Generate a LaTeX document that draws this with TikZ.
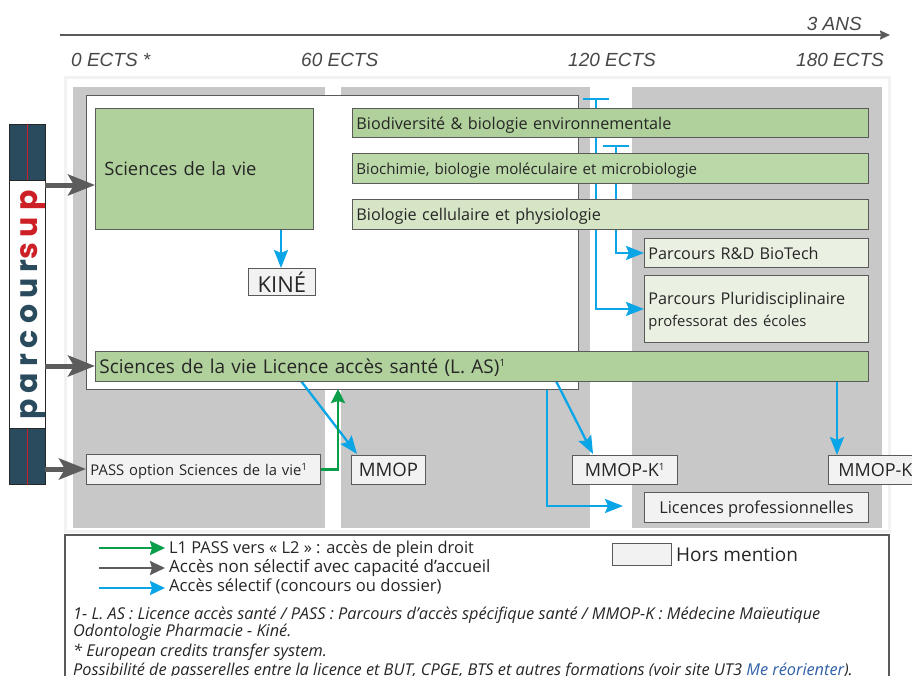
\documentclass[tikz,border=0pt]{standalone}
\usepackage{fontspec}
\setmainfont{Open Sans}
\newfontfamily\psfont[LetterSpace=20]{Poppins}
\newfontfamily\axfont{Liberation Sans}
\usetikzlibrary{arrows.meta,calc}
\pgfdeclarelayer{bands}\pgfdeclarelayer{low}\pgfdeclarelayer{conn}
\pgfsetlayers{bands,low,conn,main}
\definecolor{bandgray}{HTML}{C8C8C8}
\definecolor{edgegray}{HTML}{5A5A5A}
\definecolor{navy}{HTML}{2A4A5E}
\definecolor{psred}{HTML}{CC1F26}
\definecolor{bluearr}{HTML}{0AA5E6}
\definecolor{greenarr}{HTML}{0B9E4A}
\definecolor{grayarr}{HTML}{5C5C5C}
\definecolor{gA}{HTML}{B0D19C}
\definecolor{gB}{HTML}{BBD8A9}
\definecolor{gC}{HTML}{D5E5C5}
\definecolor{gD}{HTML}{EAF1E3}
\definecolor{soft}{HTML}{F2F2F2}
\tikzset{
  box/.style={draw=edgegray,line width=0.9pt,anchor=north west,inner xsep=4pt,inner ysep=0pt,align=left,font=\fontsize{16.2}{22}\selectfont,text=black!85},
  centerbox/.style={box,align=center},
  band/.style={fill=bandgray,draw=none,anchor=north west,inner sep=0pt},
  axis/.style={font=\fontsize{19}{22}\axfont\itshape,text=black!72},
  blueline/.style={bluearr,line width=2.3pt},
  bluearrow/.style={blueline,-{Stealth[length=18pt,width=14pt,inset=3pt]}},
  grayarrow/.style={grayarr,line width=5pt,-{Stealth[length=27pt,width=21pt,inset=6pt]}},
  greenarrow/.style={greenarr,line width=2.5pt,-{Stealth[length=14pt,width=14pt,inset=2pt]}},
  legendline/.style={line width=2.2pt,-{Stealth[length=15pt,width=14pt,inset=2pt]}},
  legendtxt/.style={anchor=west,inner sep=0pt,text=black!85},
  note/.style={anchor=base west,inner sep=0pt,font=\fontsize{16.3}{18}\selectfont\itshape,text=black!85},
}
\newcommand{\up}[1]{\textsuperscript{\fontsize{10}{10}\selectfont #1}}
\newcommand{\dn}[1]{\raisebox{-2pt}[\height][\depth]{#1}}
\begin{document}
\begin{tikzpicture}[x=1pt,y=-1pt]
\useasboundingbox (0,0) rectangle (912,675);
\clip (0,0) rectangle (912,675);

% axis
\coordinate (axA) at (60,35);
\coordinate (axB) at (890,35);
\draw[edgegray,line width=1.6pt,-{Stealth[length=10pt,width=9pt,inset=1pt]}] (axA) -- (axB);
\node[axis,anchor=base east,inner sep=0pt] (ans) at (862,30) {3 ANS};
\node[axis,anchor=base west,inner sep=0pt] (e0) at (71,66) {0 ECTS *};
\node[axis,anchor=base west,inner sep=0pt] (e60) at (301,66) {60 ECTS};
\node[axis,anchor=base west,inner sep=0pt] (e120) at (568,66) {120 ECTS};
\node[axis,anchor=base west,inner sep=0pt] (e180) at (796,66) {180 ECTS};

% bands
\begin{pgfonlayer}{bands}
\fill[white] (0,0) rectangle (912,675);
\draw[soft,line width=3pt] (65.5,77) rectangle (889,531);
\node[band,minimum width=252pt,minimum height=441pt] (b1) at (73,87) {};
\node[band,minimum width=249pt,minimum height=441pt] (b2) at (341,87) {};
\node[band,minimum width=250pt,minimum height=441pt] (b3) at (632,87) {};
\end{pgfonlayer}
\begin{pgfonlayer}{low}
\node[box,fill=white,minimum width=492pt,minimum height=294pt] (big) at (86,95) {};
\end{pgfonlayer}

% green boxes
\node[box,fill=gA,text width=200pt,minimum height=121pt,font=\fontsize{18.4}{22}\selectfont,inner xsep=9pt] (sv) at (95,108) {Sciences de la vie\\[6pt]};
\node[box,fill=gA,text width=508pt,minimum height=29pt] (bio) at (352,108) {\dn{Biodiversité \& biologie environnementale}};
\node[box,fill=gB,text width=508pt,minimum height=30pt,font=\fontsize{15.1}{22}\selectfont] (bioc) at (352,153) {\dn{Biochimie, biologie moléculaire et microbiologie}};
\node[box,fill=gC,text width=508pt,minimum height=30pt] (biol) at (352,199) {\dn{Biologie cellulaire et physiologie}};
\node[box,fill=gD,text width=216pt,minimum height=29pt] (rd) at (644,238) {Parcours R\&D BioTech};
\node[box,fill=gD,text width=216pt,minimum height=67pt] (plu) at (644,275) {\dn{Parcours Pluridisciplinaire}\\\dn{\fontsize{14.8}{22}\selectfont professorat des écoles}};
\node[box,fill=gA,text width=765pt,minimum height=30pt,font=\fontsize{19}{22}\selectfont] (las) at (95,351) {\raisebox{-1pt}[\height][\depth]{Sciences de la vie Licence accès santé (L. AS)\up{1}}};

% other boxes
\node[centerbox,fill=soft,minimum width=67pt,minimum height=27pt,inner xsep=0pt,font=\fontsize{22}{22}\selectfont] (kine) at (248,268) {KINÉ};
\node[box,fill=soft,text width=226pt,minimum height=30pt,font=\fontsize{14.8}{22}\selectfont] (pass) at (86,454) {\dn{PASS option Sciences de la vie\up{1}}};
\node[centerbox,fill=soft,minimum width=74pt,minimum height=29pt,inner xsep=0pt,font=\fontsize{18.6}{22}\selectfont] (mmop) at (351,455) {MMOP};
\node[centerbox,fill=soft,minimum width=105pt,minimum height=29pt,inner xsep=0pt,font=\fontsize{18}{22}\selectfont] (mk) at (572,455) {MMOP-K\up{1}};
\node[box,fill=soft,minimum width=100pt,minimum height=29pt,inner xsep=7pt,font=\fontsize{18}{22}\selectfont] (mk2) at (828,455) {MMOP-K\up{1}};
\node[centerbox,fill=soft,minimum width=224pt,minimum height=30pt,inner xsep=0pt,font=\fontsize{16.4}{22}\selectfont] (lic) at (644,492) {\dn{Licences professionnelles}};

% parcoursup
\node[draw=black!85,line width=1pt,fill=navy,anchor=north west,minimum width=36pt,minimum height=56pt,inner sep=0pt] (psA) at (9,124) {};
\node[draw=black!85,line width=1pt,fill=navy,anchor=north west,minimum width=36pt,minimum height=56pt,inner sep=0pt] (psB) at (9,428) {};
\draw[psred,line width=0.6pt] (psA.north) -- (psA.south);
\draw[psred,line width=0.6pt] (psB.north) -- (psB.south);
\node[draw=black!85,line width=1pt,fill=white,anchor=north west,minimum width=36pt,minimum height=248pt,inner sep=0pt] (ps) at (9,180) {};
\node[rotate=90,anchor=base,inner sep=0pt,font=\fontsize{30}{32}\psfont\bfseries] (pstxt) at (37,305) {\textcolor{navy}{parcour}\textcolor{psred}{sup}};

% gray arrows
\coordinate (gA) at (45,185);
\coordinate (gB) at (45,366);
\coordinate (gC) at (45,469);
\draw[grayarrow] (gA) -- (gA -| sv.west);
\draw[grayarrow] (gB) -- (gB -| las.west);
\draw[grayarrow] (gC) -- (gC -| pass.west);

% blue connectors
\coordinate (tA) at (596,99);
\coordinate (tB) at (616,146);
\begin{pgfonlayer}{bands}
\draw[bluearrow] (547,385) |- (623,506);
\end{pgfonlayer}
\begin{pgfonlayer}{conn}
\draw[blueline] ($(tA)+(-13,0)$) -- ($(tA)+(13,0)$);
\draw[blueline] ($(tB)+(-13,0)$) -- ($(tB)+(13,0)$);
\draw[bluearrow] (tA) |- (plu.west);
\draw[bluearrow] (tB) |- (rd.west);
\draw[bluearrow] (281,229) -- (281,268);
\draw[bluearrow] (301,381) -- (357,454);
\draw[bluearrow] (556,381) -- (593,454);
\draw[bluearrow] (837,381) -- (837,455);
\draw[greenarrow] (pass.east) -| (338,389);
\end{pgfonlayer}

% legend
\draw[edgegray,line width=1.2pt] (65,680) -- (65,535) -- (889,535) -- (889,680);
\coordinate (lA) at (99,548);
\coordinate (lB) at (99,568);
\coordinate (lC) at (99,588);
\draw[legendline,greenarr] (lA) -- ++(66,0);
\draw[legendline,grayarr] (lB) -- ++(66,0);
\draw[legendline,bluearr] (lC) -- ++(66,0);
\node[legendtxt,font=\fontsize{16.4}{18}\selectfont] (tA1) at (169,549.5) {L1 PASS vers « L2 » : accès de plein droit};
\node[legendtxt,font=\fontsize{17}{18}\selectfont] (tB1) at (169,568) {Accès non sélectif avec capacité d’accueil};
\node[legendtxt,font=\fontsize{16.6}{18}\selectfont] (tC1) at (169,586.5) {Accès sélectif (concours ou dossier)};
\node[box,fill=soft,minimum width=59pt,minimum height=22pt] (hm) at (612,543) {};
\node[anchor=west,inner sep=0pt,font=\fontsize{19}{22}\selectfont,text=black!85] (hmt) at (676,555) {Hors mention};
\node[note] (n1) at (73,619) {1- L. AS : Licence accès santé / PASS : Parcours d’accès spécifique santé / MMOP-K : Médecine Maïeutique};
\node[note] (n2) at (73,636) {Odontologie Pharmacie - Kiné.};
\node[note] (n3) at (73,656) {* European credits transfer system.};
\node[note] (n4) at (73,675) {Possibilité de passerelles entre la licence et BUT, CPGE, BTS et autres formations (voir site UT3 \textcolor[HTML]{2F5FA8}{Me réorienter}).};
\end{tikzpicture}
\end{document}
